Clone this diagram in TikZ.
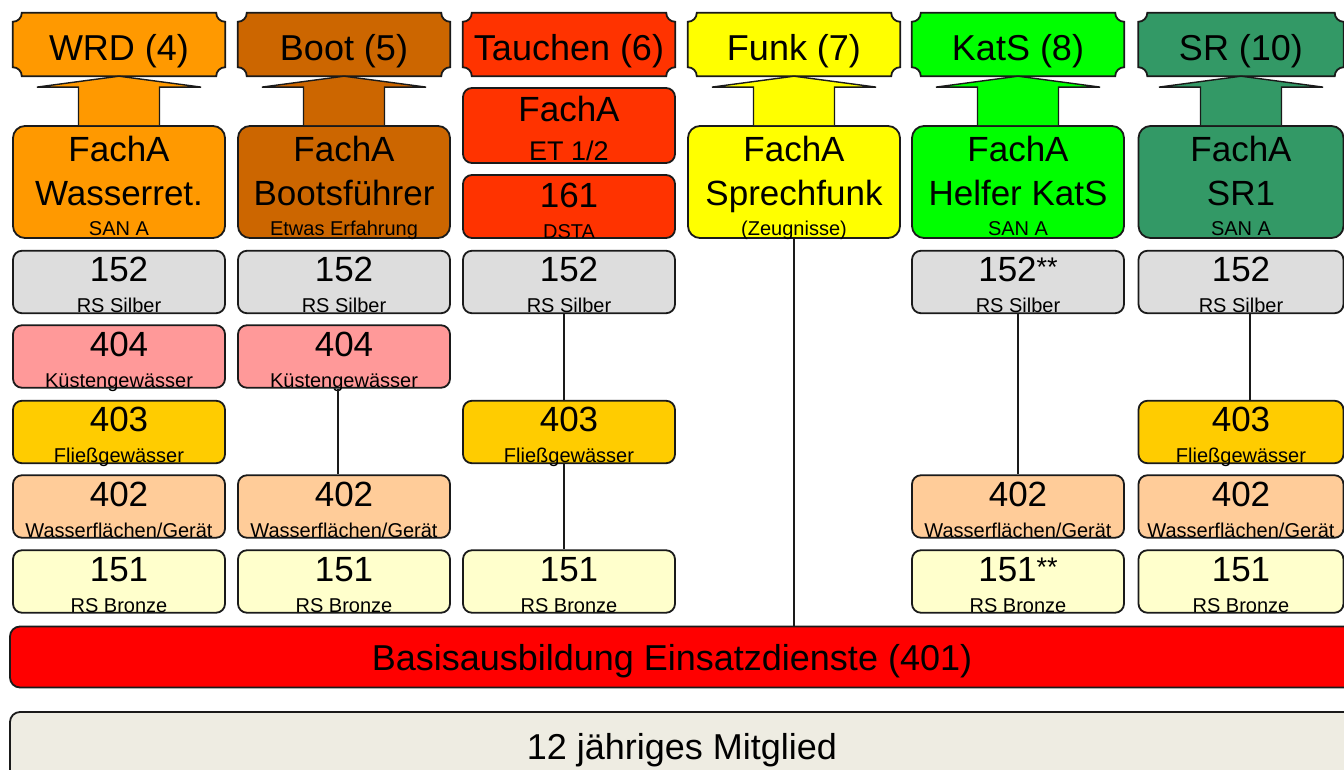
\documentclass[tikz,border=0pt]{standalone}
\usepackage{fontspec}
\setmainfont{Liberation Sans}
\usetikzlibrary{calc,backgrounds}

\definecolor{cWRD}{HTML}{FF9900}
\definecolor{cBoot}{HTML}{CC6600}
\definecolor{cTau}{HTML}{FF3300}
\definecolor{cFunk}{HTML}{FFFF00}
\definecolor{cKatS}{HTML}{00FF00}
\definecolor{cSR}{HTML}{339966}
\definecolor{cSilber}{HTML}{DDDDDD}
\definecolor{cKuest}{HTML}{FF9999}
\definecolor{cFliess}{HTML}{FFCC00}
\definecolor{cWasser}{HTML}{FFCC99}
\definecolor{cBronze}{HTML}{FFFFCC}
\definecolor{cBasis}{HTML}{FF0000}
\definecolor{cMitgl}{HTML}{EEECE2}
\definecolor{lineC}{HTML}{1A1A1A}

\tikzset{
  box/.style={draw=lineC, line width=1.8pt, rounded corners=9pt, inner sep=0pt},
  rbox/.style={box, minimum height=62.5pt},
  numtxt/.style={font=\fontsize{35}{35}\selectfont, inner sep=0pt},
  bigtxt/.style={font=\fontsize{35}{35}\selectfont, inner sep=0pt},
  hdrtxt/.style={font=\fontsize{36}{36}\selectfont, inner sep=0pt},
  subtxt/.style={font=\fontsize{20}{20}\selectfont, inner sep=0pt},
  conn/.style={draw=lineC, line width=1.5pt},
  arr/.style={draw=lineC, line width=1.4pt, line join=miter},
  plaque/.style={draw=lineC, line width=1.8pt},
}

\newcommand\stars{{\fontsize{27}{27}\selectfont\raisebox{5pt}{**}}}

% row box: name, cx, cy, width, colour, number, subtext
\newcommand\rowbox[7]{%
  \node[rbox, minimum width=#4pt, fill=#5] (#1) at (#2,#3) {};
  \node[numtxt, anchor=base] (#1n) at ([yshift=-32pt]#1.north) {#6};
  \node[subtxt, anchor=base] (#1s) at ([yshift=1.5pt]#1.south) {#7};
}
% FachA box: name, cx, colour, line2, subtext, width
\newcommand\fachbox[6]{%
  \node[box, rounded corners=12pt, minimum width=#6pt, minimum height=112pt, fill=#3] (#1) at (#2,182) {};
  \node[bigtxt, anchor=base] (#1a) at ([yshift=-36pt]#1.north) {FachA};
  \node[bigtxt, anchor=base] (#1b) at ([yshift=-80pt]#1.north) {#4};
  \node[subtxt, anchor=base] (#1c) at ([yshift=3pt]#1.south) {#5};
}
% header plaque: name, cx, width, colour, text
\newcommand\header[5]{%
  \node[inner sep=0pt, minimum width=#3pt, minimum height=63pt] (#1) at (#2,44.5) {};
  \node[hdrtxt, anchor=base] (#1t) at ([yshift=16pt]#1.south) {#5};
  \begin{pgfonlayer}{background}
  \draw[plaque, fill=#4]
    ($(#1.north west)+(9,0)$) -- ($(#1.north east)+(-9,0)$)
    arc[start angle=180, end angle=270, radius=9pt]
    -- ($(#1.south east)+(0,-9)$)
    arc[start angle=90, end angle=180, radius=9pt]
    -- ($(#1.south west)+(9,0)$)
    arc[start angle=0, end angle=90, radius=9pt]
    -- ($(#1.north west)+(0,9)$)
    arc[start angle=-90, end angle=0, radius=9pt]
    -- cycle;
  \end{pgfonlayer}
}
% block arrow from box #1 up to header #2, colour #3
\newcommand\blockarrow[3]{%
  \draw[arr, fill=#3]
    ($(#1.north)+(-40.5,0)$) -- ($(#1.north)+(-40.5,-38)$)
    -- ($(#1.north)+(-82,-38)$) -- (#2.south)
    -- ($(#1.north)+(82,-38)$) -- ($(#1.north)+(40.5,-38)$)
    -- ($(#1.north)+(40.5,0)$);
}

\begin{document}
\begin{tikzpicture}[x=1pt, y=-1pt]
\useasboundingbox (0,0) rectangle (1344,770);
\clip (0,0) rectangle (1344,770);

% headers
\header{h1}{119}{212}{cWRD}{WRD (4)}
\header{h2}{344}{212}{cBoot}{Boot (5)}
\header{h3}{569}{212}{cTau}{Tauchen (6)}
\header{h4}{794}{212}{cFunk}{Funk (7)}
\header{h5}{1018}{212}{cKatS}{KatS (8)}
\header{h6}{1241}{205}{cSR}{SR (10)}

% FachA boxes
\fachbox{f1}{119}{cWRD}{Wasserret.}{SAN A}{212}
\fachbox{f2}{344}{cBoot}{Bootsführer}{Etwas Erfahrung}{212}
\fachbox{f4}{794}{cFunk}{Sprechfunk}{(Zeugnisse)}{212}
\fachbox{f5}{1018}{cKatS}{Helfer KatS}{SAN A}{212}
\fachbox{f6}{1241}{cSR}{SR1}{SAN A}{205}

% Tauchen boxes
\node[box, minimum width=212pt, minimum height=75pt, fill=cTau] (t1) at (569,125.5) {};
\node[bigtxt, anchor=base] (t1a) at ([yshift=-34pt]t1.north) {FachA};
\node[font=\fontsize{27}{27}\selectfont, inner sep=0pt, anchor=base] (t1b) at ([yshift=3pt]t1.south) {ET 1/2};
\node[box, minimum width=212pt, minimum height=63pt, fill=cTau] (t2) at (569,206.5) {};
\node[numtxt, anchor=base] (t2a) at ([yshift=-33pt]t2.north) {161};
\node[subtxt, anchor=base] (t2b) at ([yshift=0pt]t2.south) {DSTA};

% arrows
\blockarrow{f1}{h1}{cWRD}
\blockarrow{f2}{h2}{cBoot}
\blockarrow{f4}{h4}{cFunk}
\blockarrow{f5}{h5}{cKatS}
\blockarrow{f6}{h6}{cSR}

% column 1
\rowbox{a1}{119}{282}{212}{cSilber}{152}{RS Silber}
\rowbox{a2}{119}{356.5}{212}{cKuest}{404}{Küstengewässer}
\rowbox{a3}{119}{432}{212}{cFliess}{403}{Fließgewässer}
\rowbox{a4}{119}{506.5}{212}{cWasser}{402}{Wasserflächen/Gerät}
\rowbox{a5}{119}{581.5}{212}{cBronze}{151}{RS Bronze}
% column 2
\rowbox{b1}{344}{282}{212}{cSilber}{152}{RS Silber}
\rowbox{b2}{344}{356.5}{212}{cKuest}{404}{Küstengewässer}
\rowbox{b4}{344}{506.5}{212}{cWasser}{402}{Wasserflächen/Gerät}
\rowbox{b5}{344}{581.5}{212}{cBronze}{151}{RS Bronze}
% column 3
\rowbox{c1}{569}{282}{212}{cSilber}{152}{RS Silber}
\rowbox{c3}{569}{432}{212}{cFliess}{403}{Fließgewässer}
\rowbox{c5}{569}{581.5}{212}{cBronze}{151}{RS Bronze}
% column 5
\rowbox{e1}{1018}{282}{212}{cSilber}{152\stars}{RS Silber}
\rowbox{e4}{1018}{506.5}{212}{cWasser}{402}{Wasserflächen/Gerät}
\rowbox{e5}{1018}{581.5}{212}{cBronze}{151\stars}{RS Bronze}
% column 6
\rowbox{g1}{1241}{282}{205}{cSilber}{152}{RS Silber}
\rowbox{g3}{1241}{432}{205}{cFliess}{403}{Fließgewässer}
\rowbox{g4}{1241}{506.5}{205}{cWasser}{402}{Wasserflächen/Gerät}
\rowbox{g5}{1241}{581.5}{205}{cBronze}{151}{RS Bronze}

% base boxes
\node[box, rounded corners=10pt, minimum width=1350pt, minimum height=61pt, fill=cBasis] (basis) at (685,657) {};
\node[hdrtxt, anchor=base] (basist) at (672,670) {Basisausbildung Einsatzdienste (401)};
\node[box, rounded corners=10pt, minimum width=1350pt, minimum height=90pt, fill=cMitgl] (mitgl) at (685,757) {};
\node[hdrtxt, anchor=base] (mitglt) at (682,759) {12 jähriges Mitglied};

% connectors
\draw[conn] ([xshift=-6pt]b2.south) -- ([xshift=-6pt]b4.north);
\draw[conn] ([xshift=-5pt]c1.south) -- ([xshift=-5pt]c3.north);
\draw[conn] ([xshift=-5pt]c3.south) -- ([xshift=-5pt]c5.north);
\draw[conn] (e1.south) -- (e4.north);
\draw[conn] ([xshift=9pt]g1.south) -- ([xshift=9pt]g3.north);
\draw[conn] (f4.south) -- (f4.south |- basis.north);
\end{tikzpicture}
\end{document}
